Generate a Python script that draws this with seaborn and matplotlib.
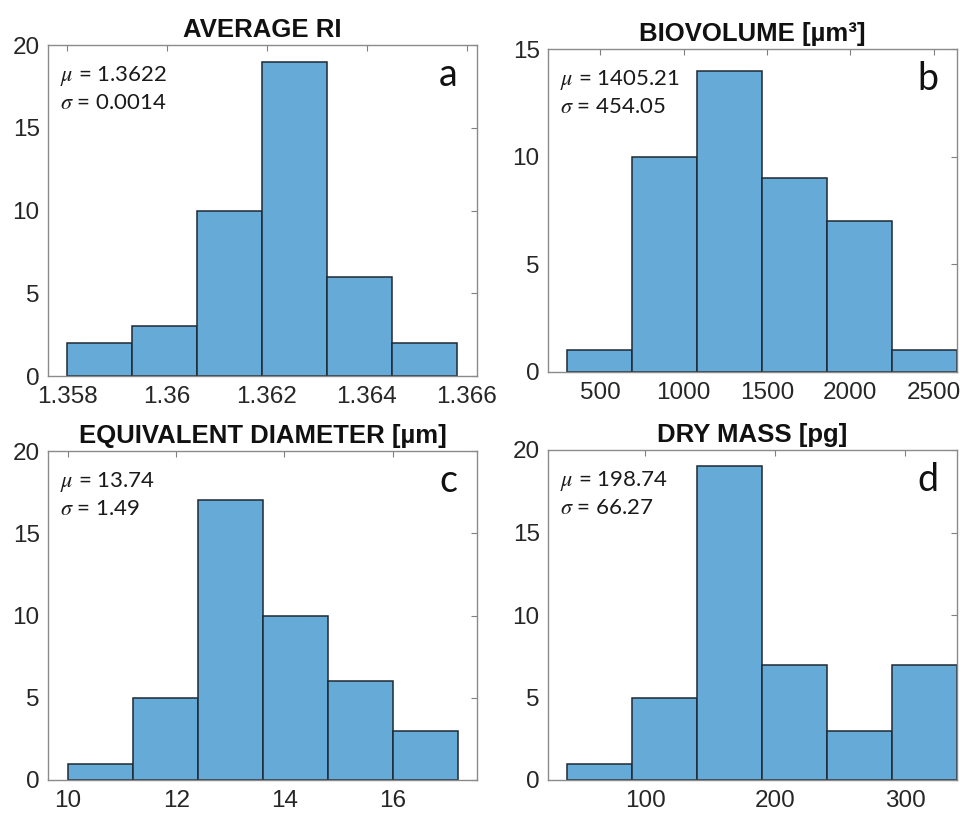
import numpy as np
import matplotlib
matplotlib.use('Agg')
import matplotlib.pyplot as plt
import seaborn as sns

sns.set_style('white')
plt.rcParams['font.family'] = ['Liberation Sans', 'DejaVu Sans']
plt.rcParams['mathtext.fontset'] = 'stix'

# ---- data ----
ri_edges = [1.358, 1.3593, 1.3606, 1.3619, 1.3632, 1.3645, 1.3658]
ri_counts = [2, 3, 10, 19, 6, 2]

bv_edges = [300, 690, 1080, 1470, 1860, 2250, 2640]
bv_counts = [1, 10, 14, 9, 7, 1]

ed_edges = [10, 11.2, 12.4, 13.6, 14.8, 16.0, 17.2]
ed_counts = [1, 5, 17, 10, 6, 3]

dm_edges = [40, 90, 140, 190, 240, 290, 340]
dm_counts = [1, 5, 19, 7, 3, 7]

titles = ['AVERAGE RI', 'BIOVOLUME [\u00b5m\u00b3]', 'EQUIVALENT DIAMETER [\u00b5m]', 'DRY MASS [pg]']
letters = ['a', 'b', 'c', 'd']
means = ['1.3622', '1405.21', '13.74', '198.74']
stds = ['0.0014', '454.05', '1.49', '66.27']

xticks = [[1.358, 1.36, 1.362, 1.364, 1.366], [500, 1000, 1500, 2000, 2500],
          [10, 12, 14, 16], [100, 200, 300]]
xticklabels = [['1.358', '1.36', '1.362', '1.364', '1.366'],
               ['500', '1000', '1500', '2000', '2500'],
               ['10', '12', '14', '16'], ['100', '200', '300']]
xlims = [(1.35762, 1.3662), (186, 2640), (9.63, 17.56), (25, 340)]
ylims = [20, 15, 20, 20]

# ---- layout ----
W, H = 968, 814
boxes = [(48, 45, 477, 376), (548, 49, 957, 372), (48, 451, 477, 780), (548, 450, 957, 780)]

fig = plt.figure(figsize=(W / 100, H / 100), dpi=100)

panels = [(ri_edges, ri_counts), (bv_edges, bv_counts), (ed_edges, ed_counts), (dm_edges, dm_counts)]

for i, (edges, counts) in enumerate(panels):
    x0, y0, x1, y1 = boxes[i]
    ax = fig.add_axes([x0 / W, 1 - y1 / H, (x1 - x0) / W, (y1 - y0) / H])
    e = np.array(edges)
    centers = (e[:-1] + e[1:]) / 2
    sns.histplot(x=centers, weights=counts, bins=edges, color='#66AAD7',
                 edgecolor='#1f2a33', linewidth=1.1, alpha=1, ax=ax)
    ax.set_xlim(*xlims[i])
    ax.set_ylim(0, ylims[i])
    ax.set_xticks(xticks[i])
    ax.set_xticklabels(xticklabels[i])
    ax.set_yticks(range(0, ylims[i] + 1, 5))
    ax.set_xlabel('')
    ax.set_ylabel('')
    ax.tick_params(direction='in', top=True, right=True, length=4, width=0.8,
                   color='#808080', labelcolor='#262626', labelsize=17.5, pad=6)
    ax.tick_params(axis='x', pad=7)
    for s in ax.spines.values():
        s.set_visible(True)
        s.set_color('#8a8a8a')
        s.set_linewidth(1)
    ax.set_title(titles[i], fontsize=18.5, fontweight='bold', pad=6, color='#111111')

    # stats text
    ax.text(12 / (x1 - x0), 1 - 31 / (y1 - y0), r'$\mu$ = ' + means[i],
            transform=ax.transAxes, fontsize=16, va='center', ha='left',
            family=['Lato', 'DejaVu Sans'], color='#1a1a1a')
    ax.text(12 / (x1 - x0), 1 - 58 / (y1 - y0), r'$\sigma$ = ' + stds[i],
            transform=ax.transAxes, fontsize=16, va='center', ha='left',
            family=['Lato', 'DejaVu Sans'], color='#1a1a1a')
    # panel letter
    ax.text(1 - 29 / (x1 - x0), 1 - 30 / (y1 - y0), letters[i],
            transform=ax.transAxes, fontsize=27, va='center', ha='center',
            family=['Lato', 'DejaVu Sans'], color='#111111')

plt.savefig('out.png', dpi=100)
